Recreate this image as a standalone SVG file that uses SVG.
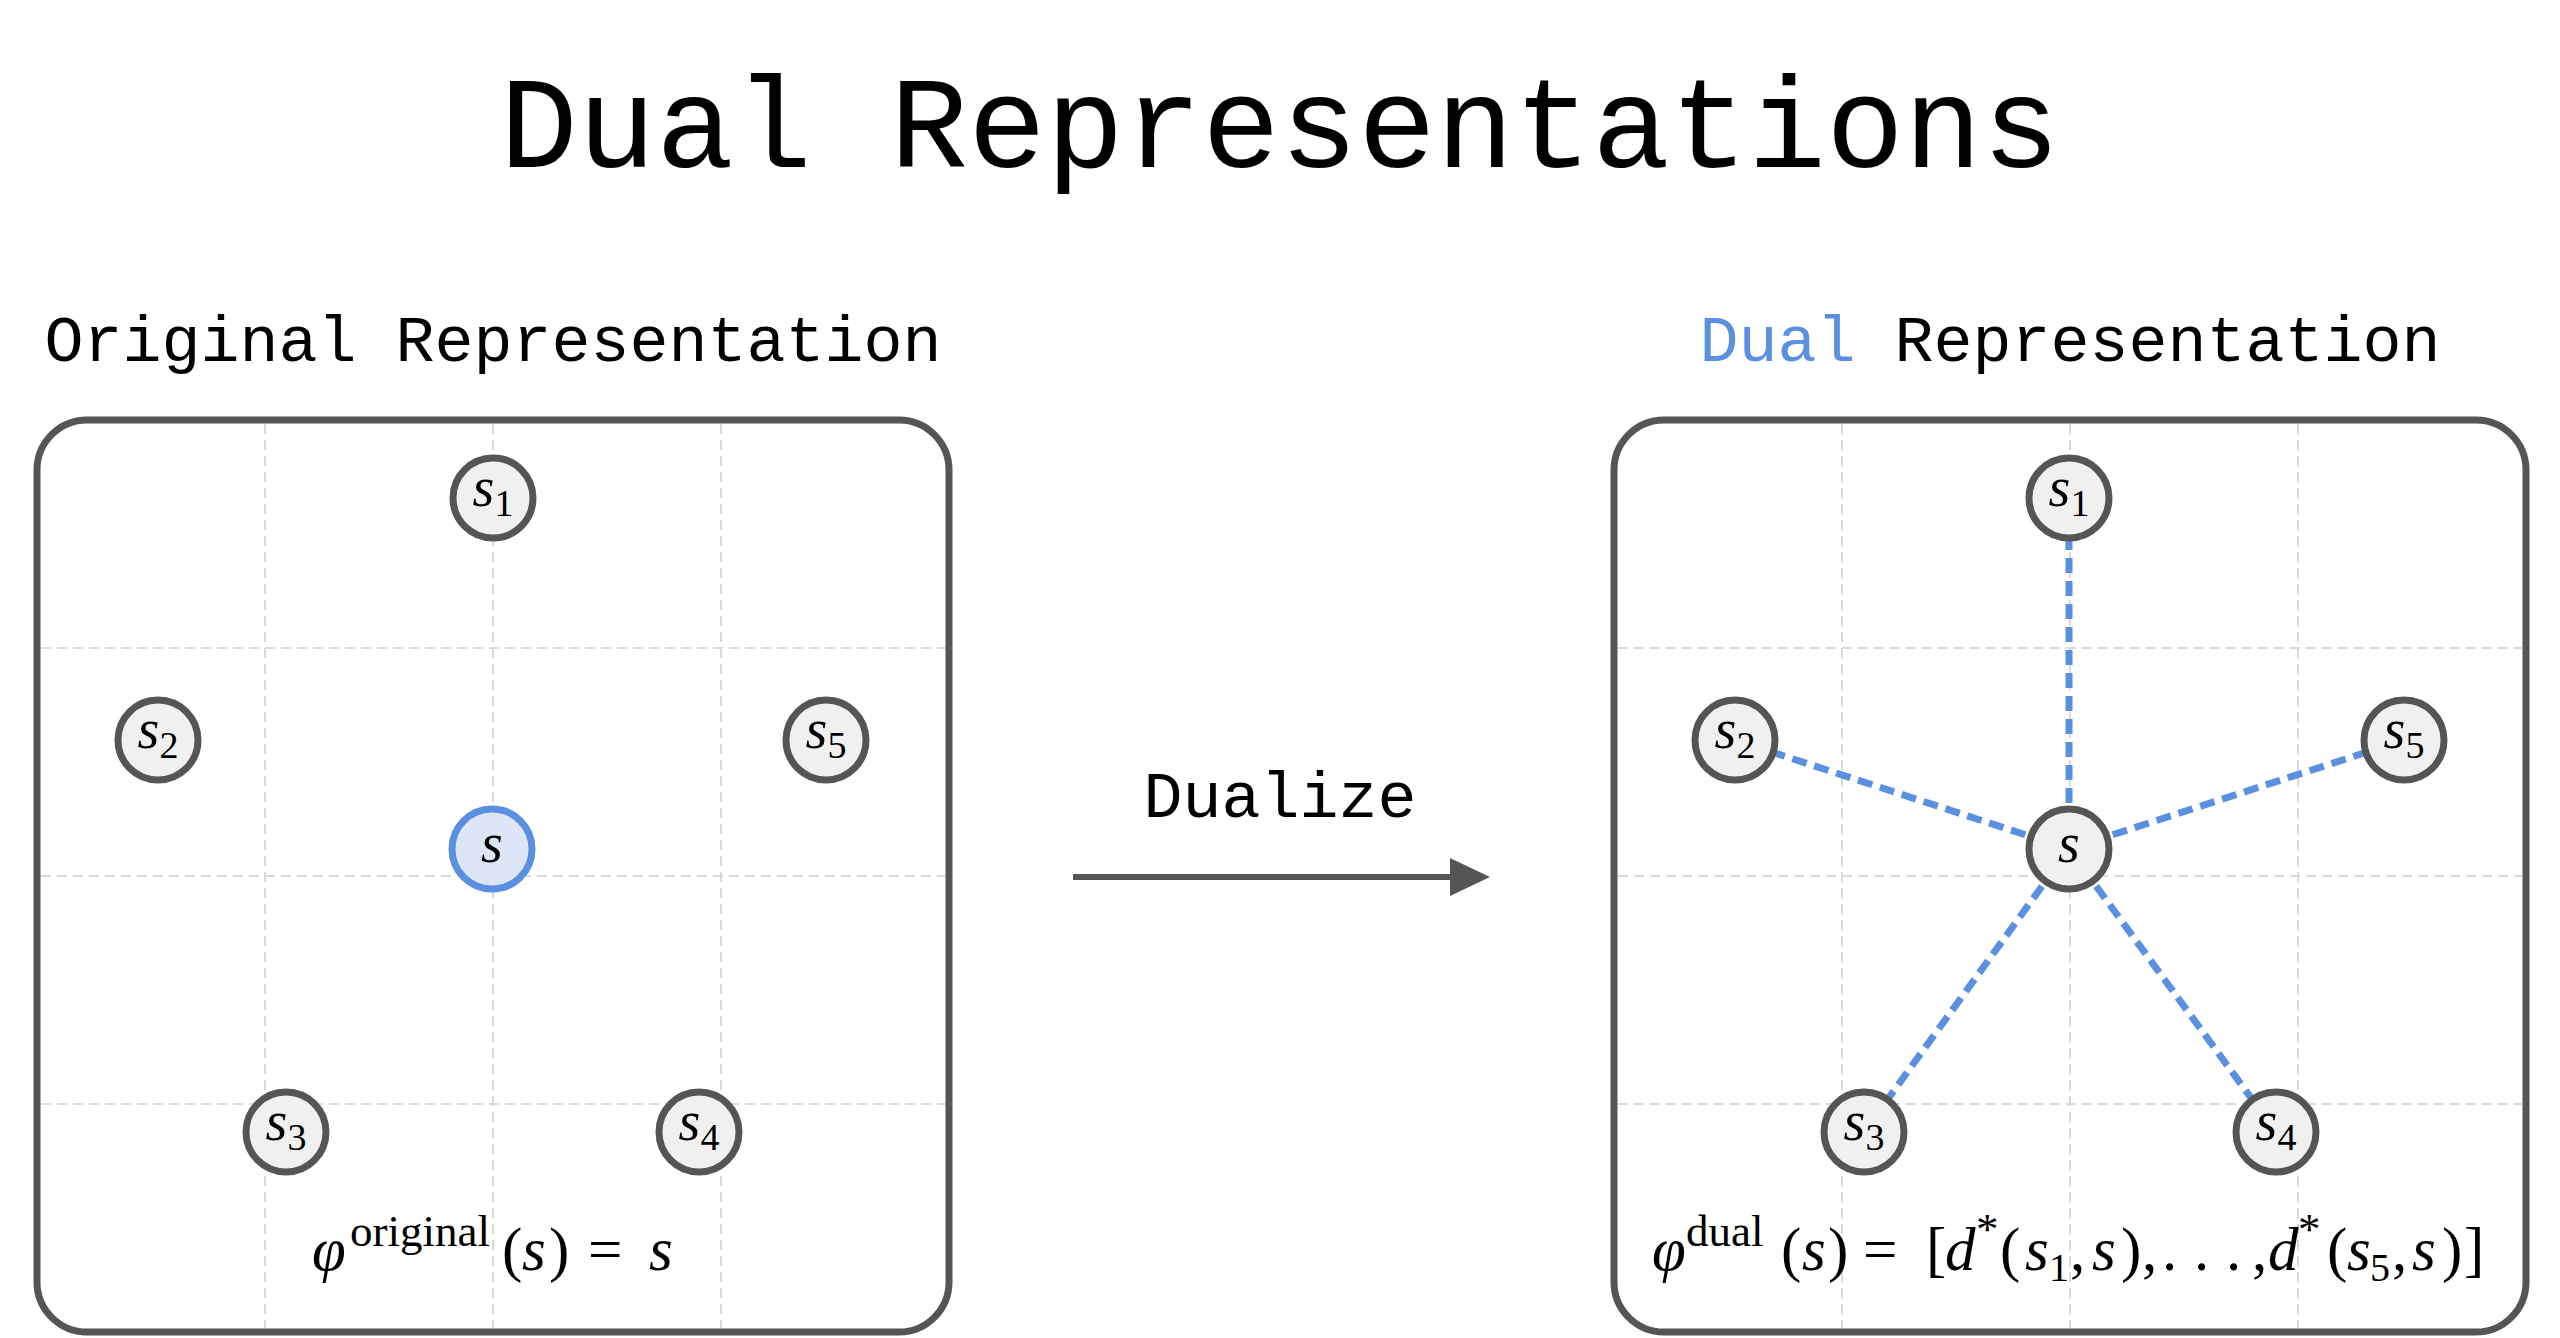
<svg xmlns="http://www.w3.org/2000/svg" width="2560" height="1338" viewBox="0 0 2560 1338">
<defs>
<style>
.mono{font-family:"Liberation Mono","DejaVu Sans Mono",monospace;fill:#000}
.title{font-size:130px}
.sub{font-size:65px}
.box{fill:#fff;stroke:#555;stroke-width:7}
.grid{stroke:#d9d9d9;stroke-width:2;stroke-dasharray:10 6;fill:none}
.node{fill:#f0f0f0;stroke:#555;stroke-width:7}
.nodeq{fill:#dde6f7;stroke:#5b8fe0;stroke-width:7}
.math{font-family:"Liberation Serif","DejaVu Serif",serif;fill:#000}
.it{font-style:italic}
.lbl{font-size:56px}
.sb{font-size:38px;font-style:normal}
.f{font-size:61px}
.sup{font-size:45px}
.fsub{font-size:40px}
.edge{stroke:#5b8fe0;stroke-width:7;stroke-dasharray:15 8;fill:none}
</style>
</defs>
<rect width="2560" height="1338" fill="#fff"/>
<text class="mono title" x="1280" y="167" text-anchor="middle">Dual Representations</text>
<text class="mono sub" x="493" y="361" text-anchor="middle">Original Representation</text>
<text class="mono sub" x="2070" y="361" text-anchor="middle"><tspan fill="#5b8fe0">Dual</tspan> Representation</text>

<g id="panel-original">
<rect class="box" x="37" y="420" width="912" height="912" rx="50"/>
<path class="grid" d="M265 424V1328M493 424V1328M721 424V1328M41 648H945M41 876H945M41 1104H945"/>
</g>
<g id="panel-dual">
<rect class="box" x="1614" y="420" width="912" height="912" rx="50"/>
<path class="grid" d="M1842 424V1328M2070 424V1328M2298 424V1328M1618 648H2522M1618 876H2522M1618 1104H2522"/>
</g>

<g id="connectors">
<path class="edge" d="M2069 849L2069 498M2069 849L1735 740M2069 849L2404 740M2069 849L1864 1132M2069 849L2276 1132"/>
<g id="dualize-arrow">
<line x1="1073" y1="877" x2="1455" y2="877" stroke="#555" stroke-width="6"/>
<polygon points="1450,858 1490,877 1450,896" fill="#555"/>
</g>
</g>
<text class="mono sub" x="1280" y="817" text-anchor="middle">Dualize</text>

<g id="orig-s1"><circle class="node" cx="493" cy="498" r="40"/><text class="math lbl" x="493" y="506" text-anchor="middle"><tspan class="it">s</tspan><tspan class="sb" dy="10">1</tspan></text></g>
<g id="orig-s2"><circle class="node" cx="158" cy="740" r="40"/><text class="math lbl" x="158" y="748" text-anchor="middle"><tspan class="it">s</tspan><tspan class="sb" dy="10">2</tspan></text></g>
<g id="orig-s5"><circle class="node" cx="826" cy="740" r="40"/><text class="math lbl" x="826" y="748" text-anchor="middle"><tspan class="it">s</tspan><tspan class="sb" dy="10">5</tspan></text></g>
<g id="orig-s"><circle class="nodeq" cx="492" cy="849" r="40"/><text class="math lbl it" x="492" y="862" text-anchor="middle">s</text></g>
<g id="orig-s3"><circle class="node" cx="286" cy="1132" r="40"/><text class="math lbl" x="286" y="1140" text-anchor="middle"><tspan class="it">s</tspan><tspan class="sb" dy="10">3</tspan></text></g>
<g id="orig-s4"><circle class="node" cx="699" cy="1132" r="40"/><text class="math lbl" x="699" y="1140" text-anchor="middle"><tspan class="it">s</tspan><tspan class="sb" dy="10">4</tspan></text></g>

<g id="dual-s1"><circle class="node" cx="2069" cy="498" r="40"/><text class="math lbl" x="2069" y="506" text-anchor="middle"><tspan class="it">s</tspan><tspan class="sb" dy="10">1</tspan></text></g>
<g id="dual-s2"><circle class="node" cx="1735" cy="740" r="40"/><text class="math lbl" x="1735" y="748" text-anchor="middle"><tspan class="it">s</tspan><tspan class="sb" dy="10">2</tspan></text></g>
<g id="dual-s5"><circle class="node" cx="2404" cy="740" r="40"/><text class="math lbl" x="2404" y="748" text-anchor="middle"><tspan class="it">s</tspan><tspan class="sb" dy="10">5</tspan></text></g>
<g id="dual-s"><circle class="node" cx="2069" cy="849" r="40"/><text class="math lbl it" x="2069" y="862" text-anchor="middle">s</text></g>
<g id="dual-s3"><circle class="node" cx="1864" cy="1132" r="40"/><text class="math lbl" x="1864" y="1140" text-anchor="middle"><tspan class="it">s</tspan><tspan class="sb" dy="10">3</tspan></text></g>
<g id="dual-s4"><circle class="node" cx="2276" cy="1132" r="40"/><text class="math lbl" x="2276" y="1140" text-anchor="middle"><tspan class="it">s</tspan><tspan class="sb" dy="10">4</tspan></text></g>

<g id="formula-original">
<text class="math f" y="1270"><tspan class="it" x="312">φ</tspan><tspan class="sup" x="350" y="1246">original</tspan><tspan x="502" y="1270">(</tspan><tspan class="it" x="522">s</tspan><tspan x="549">)</tspan><tspan x="588">=</tspan><tspan class="it" x="649">s</tspan></text>
</g>
<g id="formula-dual">
<text class="math f" y="1270"><tspan class="it" x="1652">φ</tspan><tspan class="sup" x="1686" y="1246">dual</tspan><tspan x="1781" y="1270">(</tspan><tspan class="it" x="1802">s</tspan><tspan x="1828">)</tspan><tspan x="1863">=</tspan><tspan x="1926">[</tspan><tspan class="it" x="1945">d</tspan><tspan class="sup" x="1976" y="1244">*</tspan><tspan x="2000" y="1270">(</tspan><tspan class="it" x="2025">s</tspan><tspan class="fsub" x="2049" y="1281">1</tspan><tspan x="2070" y="1270">,</tspan><tspan class="it" x="2092">s</tspan><tspan x="2121">)</tspan><tspan x="2142">,</tspan><tspan x="2162">.</tspan><tspan x="2194">.</tspan><tspan x="2226">.</tspan><tspan x="2252">,</tspan><tspan class="it" x="2268">d</tspan><tspan class="sup" x="2298" y="1244">*</tspan><tspan x="2327" y="1270">(</tspan><tspan class="it" x="2347">s</tspan><tspan class="fsub" x="2370" y="1281">5</tspan><tspan x="2392" y="1270">,</tspan><tspan class="it" x="2412">s</tspan><tspan x="2442">)</tspan><tspan x="2464">]</tspan></text>
</g>
</svg>
